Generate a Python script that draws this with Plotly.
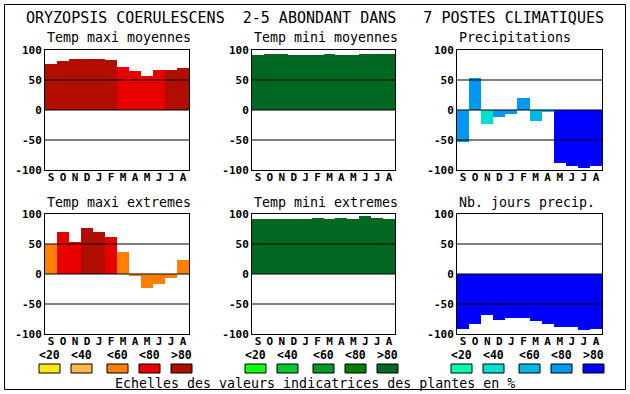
import plotly.graph_objects as go

W, H = 630, 394

# ---------------- data ----------------
months = ["S", "O", "N", "D", "J", "F", "M", "A", "M", "J", "J", "A"]
y_ticks = [100, 50, 0, -50, -100]
legend_labels = ["<20", "<40", "<60", "<80", ">80"]

red_scale = ["#FFE818", "#FFB850", "#FF8000", "#E80000", "#B00C00"]
green_scale = ["#10FF10", "#00C830", "#009828", "#007E00", "#006820"]
blue_scale = ["#00FFB0", "#00E0D0", "#00B8E0", "#0098F0", "#0000FF"]

titles = ["Temp maxi moyennes", "Temp mini moyennes", "Precipitations",
          "Temp maxi extremes", "Temp mini extremes", "Nb. jours precip."]

tmax_moy = [77, 82, 85, 85, 85, 83, 72, 65, 57, 67, 67, 70]
tmax_moy_cls = [4, 4, 4, 4, 4, 4, 3, 3, 3, 3, 4, 4]

tmin_moy = [92, 93, 93, 92, 92, 92, 93, 92, 92, 93, 93, 93]
tmin_moy_cls = [4] * 12

precip = [-53, 53, -23, -12, -7, 20, -18, -2.5, -88, -94, -97, -94]
precip_cls = [3, 3, 1, 3, 3, 3, 2, 2, 4, 4, 4, 4]

tmax_ext = [50, 70, 54, 76, 70, 61, 36, -4, -24, -16, -6, 24]
tmax_ext_cls = [2, 3, 3, 4, 4, 3, 2, 2, 2, 2, 2, 2]

tmin_ext = [92, 92, 92, 92, 92, 94, 92, 94, 92, 96, 94, 92]
tmin_ext_cls = [4] * 12

nb_jours = [-91, -83, -68, -76, -74, -74, -78, -83, -88, -88, -94, -91]
nb_jours_cls = [4] * 12

main_title = "ORYZOPSIS COERULESCENS  2-5 ABONDANT DANS   7 POSTES CLIMATIQUES"
footer = "Echelles des valeurs indicatrices des plantes en %"

# ---------------- layout helpers ----------------
def px(x):
    return x / W

def py(y):
    return 1 - y / H

MONO = "DejaVu Sans Mono"
col_x = [(45, 189), (252, 395), (457, 602)]
row_y = [(50, 170), (214, 334)]

panels = [
    (tmax_moy, tmax_moy_cls, red_scale),
    (tmin_moy, tmin_moy_cls, green_scale),
    (precip, precip_cls, blue_scale),
    (tmax_ext, tmax_ext_cls, red_scale),
    (tmin_ext, tmin_ext_cls, green_scale),
    (nb_jours, nb_jours_cls, blue_scale),
]

fig = go.Figure()
layout = dict(width=W, height=H, margin=dict(l=0, r=0, t=0, b=0, pad=0),
              autosize=False, template="none",
              paper_bgcolor="white", plot_bgcolor="white",
              showlegend=False, bargap=0, barmode="overlay")
shapes = []
annotations = []
xs = list(range(12))

for i, (vals, cls, scale) in enumerate(panels):
    r, c = divmod(i, 3)
    n = "" if i == 0 else str(i + 1)
    fig.add_trace(go.Bar(
        x=xs, y=vals, width=1,
        marker=dict(color=[scale[k] for k in cls], line=dict(width=0)),
        xaxis="x" + n, yaxis="y" + n, hoverinfo="skip"))
    x0, x1 = col_x[c]
    y0, y1 = row_y[r]
    layout["xaxis" + n] = dict(
        domain=[px(x0), px(x1)], anchor="y" + n, range=[-0.5, 11.5],
        automargin=False, ticklabelstandoff=-3,
        tickvals=xs, ticktext=months, ticks="", showgrid=False, zeroline=False,
        showline=True, mirror=True, linecolor="black", linewidth=1,
        layer="above traces",
        tickfont=dict(family=MONO, size=11, color="black", weight="bold"))
    layout["yaxis" + n] = dict(
        domain=[py(y1), py(y0)], anchor="x" + n, range=[-100, 100],
        automargin=False,
        tickvals=y_ticks, ticktext=[str(v) for v in y_ticks], ticks="",
        showgrid=False, zeroline=False,
        showline=True, mirror=True, linecolor="black", linewidth=1,
        layer="above traces",
        tickfont=dict(family=MONO, size=11, color="black", weight="bold"))
    for g in (50, 0, -50):
        shapes.append(dict(type="line", xref="x" + n + " domain", yref="y" + n,
                           x0=0, x1=1, y0=g, y1=g, layer="above",
                           line=dict(color="black", width=1)))
    annotations.append(dict(
        text=titles[i], xref="paper", yref="paper", x=px(x0), y=py(y0 - 12),
        xanchor="left", yanchor="middle", showarrow=False,
        font=dict(family=MONO, size=13.3, color="black")))

# title and footer
annotations.append(dict(text=main_title, xref="paper", yref="paper",
                        x=px(315), y=py(18), xanchor="center", yanchor="middle",
                        showarrow=False,
                        font=dict(family=MONO, size=15, color="black")))
annotations.append(dict(text=footer, xref="paper", yref="paper",
                        x=px(314.5), y=py(383), xanchor="center", yanchor="middle",
                        showarrow=False,
                        font=dict(family=MONO, size=13.3, color="black")))

# legend scales
box_x = [[39, 71, 107, 139, 171], [245, 277, 313, 345, 377], [451, 483, 519, 551, 583]]
for scale, bx in zip([red_scale, green_scale, blue_scale], box_x):
    for col, lab, x in zip(scale, legend_labels, bx):
        shapes.append(dict(type="rect", xref="paper", yref="paper",
                           x0=px(x), x1=px(x + 21), y0=py(373), y1=py(364),
                           fillcolor=col, line=dict(color="black", width=1)))
        annotations.append(dict(text=lab, xref="paper", yref="paper",
                                x=px(x + 10.5), y=py(355), xanchor="center",
                                yanchor="middle", showarrow=False,
                                font=dict(family=MONO, size=11.5, color="black",
                                          weight="bold")))

# outer frame
shapes.append(dict(type="rect", xref="paper", yref="paper",
                   x0=px(4.5), x1=px(625.5), y0=py(389.5), y1=py(4.5),
                   line=dict(color="black", width=1), layer="above"))

layout["shapes"] = shapes
layout["annotations"] = annotations
fig.update_layout(**layout)
fig.write_html("out.html",
               config={"displayModeBar": False, "staticPlot": True},
               post_script="document.body.style.margin='0';"
                           "document.body.style.overflow='hidden';")
